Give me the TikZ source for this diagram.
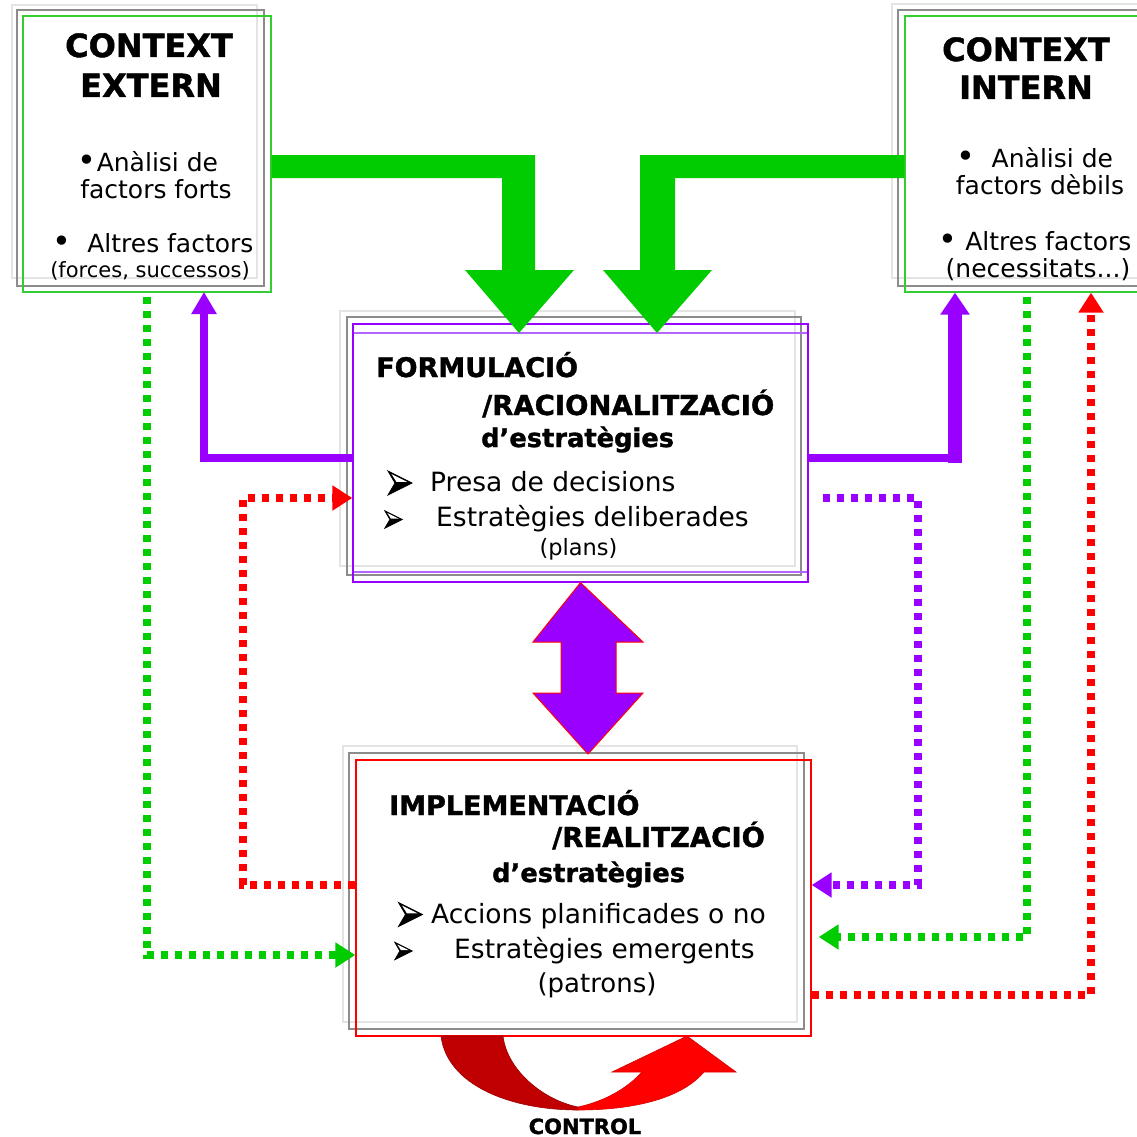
\documentclass[tikz,border=0pt]{standalone}
\usepackage{fontspec}
\setmainfont{DejaVu Sans}[BoldFeatures={FakeBold=1.3}]
\usetikzlibrary{arrows.meta, positioning}

\definecolor{flowgreen}{HTML}{00CC00}
\definecolor{edgegreen}{HTML}{33CC33}
\definecolor{stratpurple}{HTML}{9900FF}
\definecolor{lineviolet}{HTML}{B266FF}
\definecolor{ctrlred}{HTML}{FF0000}
\definecolor{ctrldark}{HTML}{C00000}
\definecolor{shadelight}{HTML}{E4E4E4}
\definecolor{shadegray}{HTML}{8C8C8C}

\begin{document}
\begin{tikzpicture}[
            x=1pt, y=-1pt,
            card/.style={draw=#1, line width=1.3pt, inner sep=0pt},
            title/.style={font=\fontsize{32}{38}\selectfont\bfseries, anchor=base, inner sep=0pt},
            heading/.style={font=\fontsize{27}{32}\selectfont\bfseries, anchor=base west, inner sep=0pt},
            body/.style={font=\fontsize{25}{30}\selectfont, anchor=base, inner sep=0pt},
            item/.style={font=\fontsize{26.5}{30}\selectfont, anchor=base west, inner sep=0pt},
            note/.style={font=\fontsize{21}{25}\selectfont, anchor=base, inner sep=0pt},
            bulletarrow/.pic={
                \filldraw[black, line width=0.8pt, line join=miter] (12,0) -- (-12,-12) -- (-5,0) -- (-12,12) -- cycle;
                \fill[white] (7,-1.2) -- (-8.5,-9) -- (-3.6,-1.2) -- cycle;
            },
            dotlink/.style={draw=#1, line width=7.5pt, dash pattern=on 7.5pt off 6.5pt,
                -{Triangle[length=20pt, width=24pt]}},
            purplelink/.style={draw=stratpurple, line width=8pt,
                -{Triangle[length=22pt, width=24pt]}},
        ]
            \useasboundingbox (0,0) rectangle (1137,1137);

            % external context
            \draw[card=shadelight] (12,5) rectangle (257,278);
            \draw[card=shadegray] (17,10) rectangle (264,286);
            \node[card=edgegreen, minimum width=248pt, minimum height=276pt] (ext) at (147,154) {};
            \node[title] at (149,57) {CONTEXT};
            \node[title] at (151,97) {EXTERN};
            \node[body] at (148,171) {{\fontsize{32}{30}\selectfont•}Anàlisi de};
            \node[body] at (156,198) {factors forts};
            \node[body] at (153,252) {{\fontsize{32}{30}\selectfont•}\ \ Altres factors};
            \node[note] at (150,277) {(forces, successos)};

            % internal context
            \draw[card=shadelight] (892,4) rectangle (1150,278);
            \draw[card=shadegray] (898,10) rectangle (1155,286);
            \node[card=edgegreen, minimum width=250pt, minimum height=276pt] (int) at (1030,154) {};
            \node[title] at (1026,61) {CONTEXT};
            \node[title] at (1026,99) {INTERN};
            \node[body] at (1035,167) {{\fontsize{32}{30}\selectfont•}\ \ Anàlisi de};
            \node[body] at (1040,194) {factors dèbils};
            \node[body] at (1035,250) {{\fontsize{32}{30}\selectfont•}\ Altres factors};
            \node[body] at (1038,277) {(necessitats...)};

            % formulation
            \draw[card=shadelight] (340,311) rectangle (795,566);
            \draw[card=shadegray] (347,317) rectangle (801,575);
            \draw[card=lineviolet] (353,333) rectangle (808,572);
            \node[card=stratpurple, minimum width=455pt, minimum height=258pt] (form) at (580.5,453) {};
            \node[heading] at (376,377) {FORMULACIÓ};
            \node[heading, font=\fontsize{27.5}{32}\selectfont\bfseries] at (482,415) {/RACIONALITZACIÓ};
            \node[heading, font=\fontsize{25.7}{32}\selectfont\bfseries] at (481,447) {d’estratègies};
            \pic at (400,483) {bulletarrow};
            \node[item] at (430,491) {Presa de decisions};
            \pic[scale=0.72] at (393.5,519.5) {bulletarrow};
            \node[item] at (436,526) {Estratègies deliberades};
            \node[note, font=\fontsize{22.5}{25}\selectfont] at (578.5,555) {(plans)};

            % implementation
            \draw[card=shadelight] (343,746) rectangle (797,1022);
            \draw[card=shadegray] (349,753) rectangle (804,1029);
            \node[card=ctrlred, minimum width=455pt, minimum height=276pt] (impl) at (583.5,898) {};
            \node[heading] at (389,815) {IMPLEMENTACIÓ};
            \node[heading, font=\fontsize{27.5}{32}\selectfont\bfseries] at (552,847) {/REALITZACIÓ};
            \node[heading, font=\fontsize{25.7}{32}\selectfont\bfseries] at (492,882) {d’estratègies};
            \pic at (410.5,914.5) {bulletarrow};
            \node[item] at (431,923) {Accions planificades o no};
            \pic[scale=0.72] at (403.5,951) {bulletarrow};
            \node[item] at (454,958) {Estratègies emergents};
            \node[body, font=\fontsize{26}{30}\selectfont] at (597,992) {(patrons)};

            % context feeds formulation
            \fill[flowgreen] (ext.east |- 0,155) -- (535,155) -- (535,270) -- (574,270) -- (519,333)
                -- (465,270) -- (502,270) -- (502,178) -- (ext.east |- 0,178) -- cycle;
            \fill[flowgreen] (int.west |- 0,155) -- (640,155) -- (640,270) -- (603,270) -- (657,333)
                -- (712,270) -- (675,270) -- (675,178) -- (int.west |- 0,178) -- cycle;

            % formulation acts back on the contexts
            \draw[purplelink] (form.west |- 0,458) -| (204,292);
            \coordinate (bend) at (955,458);
            \draw[purplelink, -] (form.east |- 0,458) -- ([xshift=7pt]bend);
            \draw[purplelink, line width=14pt, -{Triangle[length=22pt, width=28pt]}]
                ([yshift=-5pt]bend) -- (int.south -| bend);

            % two-way link between formulation and implementation
            \filldraw[fill=stratpurple, draw=ctrlred, line width=1pt]
                (form.south) -- (643,642) -- (616,642) -- (616,693) -- (643,693) -- (588,754)
                -- (533,693) -- (561,693) -- (561,642) -- (533,642) -- cycle;

            % dotted feedback loops
            \draw[dotlink=stratpurple, shorten <=14pt] (form.east |- 0,498) -| (918,885) -- (impl.east |- 0,885);
            \draw[dotlink=ctrlred] (impl.west |- 0,885) -| (243,498) -- (form.west |- 0,498);
            \draw[dotlink=flowgreen, shorten <=4pt] (ext.south) |- (impl.west |- 0,955);
            \draw[dotlink=flowgreen, shorten <=4pt, shorten >=7pt] (int.south -| 1027,0) |- (impl.east |- 0,937);
            \draw[dotlink=ctrlred] (impl.east |- 0,995) -| (int.south -| 1091,0);

            % control loop under the implementation box
            \filldraw[fill=ctrldark, draw=ctrldark!80!black, line width=0.6pt]
                (441,1036) -- (503,1036) .. controls (507,1070) and (543,1100) .. (578,1107)
                -- (578,1110) .. controls (510,1110) and (447,1085) .. (441,1036) -- cycle;
            \filldraw[fill=ctrlred, draw=ctrlred!85!black, line width=0.6pt]
                (578,1107) .. controls (610,1100) and (630,1085) .. (642,1072) -- (612,1072)
                -- (687,1036) -- (736,1072) -- (704,1072)
                .. controls (680,1100) and (630,1110) .. (578,1110) -- cycle;
            \node[font=\fontsize{21}{25}\selectfont\bfseries, anchor=base, inner sep=0pt] (ctrl) at (585,1134) {CONTROL};
        \end{tikzpicture}
\end{document}
